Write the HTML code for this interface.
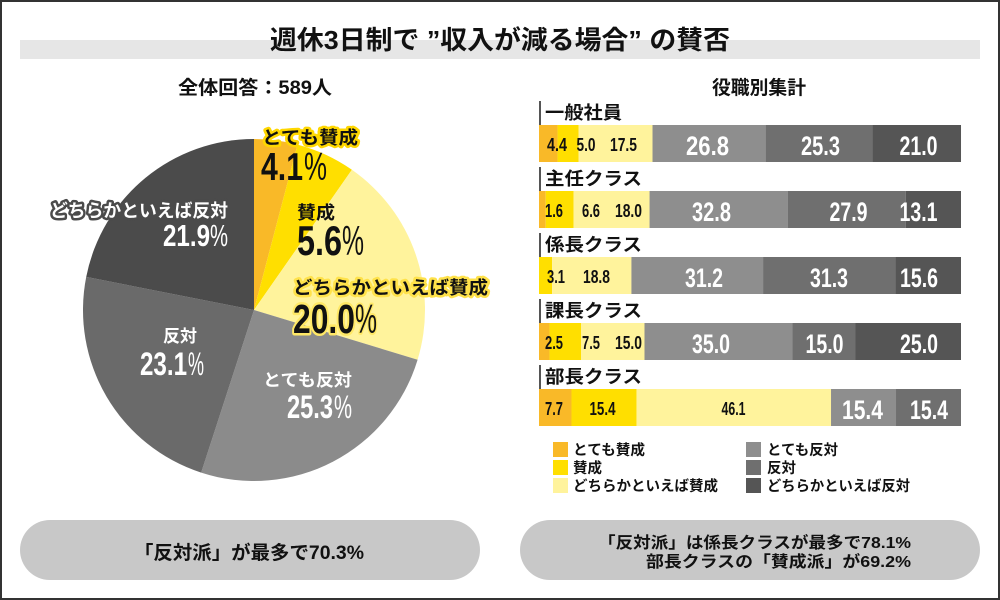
<!DOCTYPE html>
<html><head><meta charset="utf-8"><style>
html,body{margin:0;padding:0;background:#fff;}
svg{display:block;}
text{font-family:"Liberation Sans","Noto Sans CJK JP",sans-serif;}
</style></head><body>
<svg width="1000" height="600" viewBox="0 0 1000 600" xmlns="http://www.w3.org/2000/svg">
<rect x="0" y="0" width="1000" height="600" fill="#fff"/>
<rect x="1" y="1" width="998" height="598" fill="none" stroke="#333" stroke-width="2"/>
<!-- title band -->
<rect x="20" y="40" width="960" height="19" fill="#e6e6e6"/>
<text x="270" y="49" font-size="26" font-weight="700" fill="#111" textLength="460" lengthAdjust="spacingAndGlyphs">週休3日制で ”収入が減る場合” の賛否</text>
<text x="178" y="94" font-size="19" font-weight="700" fill="#111" textLength="154" lengthAdjust="spacingAndGlyphs">全体回答：589人</text>
<text x="712" y="94" font-size="19" font-weight="700" fill="#111" textLength="94" lengthAdjust="spacingAndGlyphs">役職別集計</text>

<!-- pie -->
<path d="M254,310 L254,139 A171,171 0 0 1 297.57,144.64 Z" fill="#f9b928"/>
<path d="M254,310 L297.57,144.64 A171,171 0 0 1 351.90,169.80 Z" fill="#ffdf00"/>
<path d="M254,310 L351.90,169.80 A171,171 0 0 1 417.60,359.76 Z" fill="#fff39c"/>
<path d="M254,310 L417.60,359.76 A171,171 0 0 1 201.16,472.64 Z" fill="#8b8b8b"/>
<path d="M254,310 L201.16,472.64 A171,171 0 0 1 86.23,276.90 Z" fill="#6a6a6a"/>
<path d="M254,310 L86.23,276.90 A171,171 0 0 1 254,139 Z" fill="#4b4b4b"/>

<!-- pie labels -->
<g font-weight="700" stroke-linejoin="round" paint-order="stroke">
<text x="262" y="144" font-size="18" fill="#111" stroke="#ffd700" stroke-width="5" textLength="96" lengthAdjust="spacingAndGlyphs">とても賛成</text>
<text x="261" y="180" font-size="39" fill="#111" textLength="42" lengthAdjust="spacingAndGlyphs">4.1</text>
<text x="304" y="180" font-size="39" font-weight="400" fill="#111" textLength="23" lengthAdjust="spacingAndGlyphs">%</text>

<text x="297" y="219" font-size="18" fill="#111" textLength="38" lengthAdjust="spacingAndGlyphs">賛成</text>
<text x="297" y="255" font-size="42" fill="#111" textLength="45" lengthAdjust="spacingAndGlyphs">5.6</text>
<text x="342" y="255" font-size="42" font-weight="400" fill="#111" textLength="22" lengthAdjust="spacingAndGlyphs">%</text>

<text x="293" y="294" font-size="18" fill="#111" stroke="#ffe24a" stroke-width="5" textLength="195" lengthAdjust="spacingAndGlyphs">どちらかといえば賛成</text>
<text x="293" y="333" font-size="41" fill="#111" stroke="#ffe866" stroke-width="5" textLength="62" lengthAdjust="spacingAndGlyphs">20.0</text>
<text x="355" y="333" font-size="41" font-weight="400" fill="#111" stroke="#ffe866" stroke-width="4" textLength="22" lengthAdjust="spacingAndGlyphs">%</text>

<text x="263" y="386" font-size="17" fill="#fff" textLength="89" lengthAdjust="spacingAndGlyphs">とても反対</text>
<text x="287" y="418" font-size="32" fill="#fff" textLength="46" lengthAdjust="spacingAndGlyphs">25.3</text>
<text x="334" y="418" font-size="32" font-weight="400" fill="#fff" textLength="18" lengthAdjust="spacingAndGlyphs">%</text>

<text x="163" y="342" font-size="17" fill="#fff" textLength="34" lengthAdjust="spacingAndGlyphs">反対</text>
<text x="140" y="375" font-size="32" fill="#fff" textLength="47" lengthAdjust="spacingAndGlyphs">23.1</text>
<text x="188" y="375" font-size="32" font-weight="400" fill="#fff" textLength="16" lengthAdjust="spacingAndGlyphs">%</text>

<text x="50" y="217" font-size="18" fill="#fff" stroke="#4b4b4b" stroke-width="5" textLength="178" lengthAdjust="spacingAndGlyphs">どちらかといえば反対</text>
<text x="163" y="246" font-size="31" fill="#fff" textLength="47" lengthAdjust="spacingAndGlyphs">21.9</text>
<text x="210" y="246" font-size="31" font-weight="400" fill="#fff" textLength="18" lengthAdjust="spacingAndGlyphs">%</text>
</g>

<!-- bar rows -->
<g font-weight="700" fill="#111">
<text x="545" y="119" font-size="18" textLength="77" lengthAdjust="spacingAndGlyphs">一般社員</text>
<text x="545" y="185" font-size="18" textLength="97" lengthAdjust="spacingAndGlyphs">主任クラス</text>
<text x="545" y="251" font-size="18" textLength="97" lengthAdjust="spacingAndGlyphs">係長クラス</text>
<text x="545" y="317" font-size="18" textLength="97" lengthAdjust="spacingAndGlyphs">課長クラス</text>
<text x="545" y="383" font-size="18" textLength="97" lengthAdjust="spacingAndGlyphs">部長クラス</text>
</g>
<g stroke="#555" stroke-width="2">
<line x1="540" y1="101" x2="540" y2="125"/>
<line x1="540" y1="167" x2="540" y2="191"/>
<line x1="540" y1="233" x2="540" y2="257"/>
<line x1="540" y1="299" x2="540" y2="323"/>
<line x1="540" y1="365" x2="540" y2="389"/>
</g>

<!-- row 1 -->
<rect x="539" y="125" width="18.6" height="37" fill="#f9b928"/>
<rect x="557.57" y="125" width="21.1" height="37" fill="#ffdf00"/>
<rect x="578.67" y="125" width="73.85" height="37" fill="#fff39c"/>
<rect x="652.52" y="125" width="113.1" height="37" fill="#8e8e8e"/>
<rect x="765.62" y="125" width="106.77" height="37" fill="#6f6f6f"/>
<rect x="872.39" y="125" width="88.62" height="37" fill="#555"/>
<!-- row 2 -->
<rect x="539" y="191" width="6.75" height="37" fill="#f9b928"/>
<rect x="545.75" y="191" width="27.85" height="37" fill="#ffdf00"/>
<rect x="573.6" y="191" width="75.96" height="37" fill="#fff39c"/>
<rect x="649.56" y="191" width="138.42" height="37" fill="#8e8e8e"/>
<rect x="787.98" y="191" width="117.74" height="37" fill="#6f6f6f"/>
<rect x="905.72" y="191" width="55.28" height="37" fill="#555"/>
<!-- row 3 -->
<rect x="539" y="257" width="13.08" height="37" fill="#ffdf00"/>
<rect x="552.08" y="257" width="79.34" height="37" fill="#fff39c"/>
<rect x="631.42" y="257" width="131.66" height="37" fill="#8e8e8e"/>
<rect x="763.08" y="257" width="132.09" height="37" fill="#6f6f6f"/>
<rect x="895.17" y="257" width="65.83" height="37" fill="#555"/>
<!-- row 4 -->
<rect x="539" y="323" width="10.55" height="37" fill="#f9b928"/>
<rect x="549.55" y="323" width="31.65" height="37" fill="#ffdf00"/>
<rect x="581.2" y="323" width="63.3" height="37" fill="#fff39c"/>
<rect x="644.5" y="323" width="147.7" height="37" fill="#8e8e8e"/>
<rect x="792.2" y="323" width="63.3" height="37" fill="#6f6f6f"/>
<rect x="855.5" y="323" width="105.5" height="37" fill="#555"/>
<!-- row 5 -->
<rect x="539" y="389" width="32.49" height="37" fill="#f9b928"/>
<rect x="571.49" y="389" width="64.99" height="37" fill="#ffdf00"/>
<rect x="636.48" y="389" width="194.54" height="37" fill="#fff39c"/>
<rect x="831.02" y="389" width="64.99" height="37" fill="#8e8e8e"/>
<rect x="896.01" y="389" width="64.99" height="37" fill="#6f6f6f"/>

<!-- small labels -->
<g font-size="18.5" font-weight="700" fill="#111" text-anchor="middle">
<text x="557" y="151" textLength="20" lengthAdjust="spacingAndGlyphs">4.4</text>
<text x="586" y="151" textLength="19" lengthAdjust="spacingAndGlyphs">5.0</text>
<text x="623.5" y="151" textLength="27" lengthAdjust="spacingAndGlyphs">17.5</text>
<text x="554" y="217" textLength="18" lengthAdjust="spacingAndGlyphs">1.6</text>
<text x="591" y="217" textLength="18" lengthAdjust="spacingAndGlyphs">6.6</text>
<text x="628.5" y="217" textLength="27" lengthAdjust="spacingAndGlyphs">18.0</text>
<text x="556" y="283" textLength="18" lengthAdjust="spacingAndGlyphs">3.1</text>
<text x="596.5" y="283" textLength="27" lengthAdjust="spacingAndGlyphs">18.8</text>
<text x="554" y="349" textLength="18" lengthAdjust="spacingAndGlyphs">2.5</text>
<text x="591" y="349" textLength="18" lengthAdjust="spacingAndGlyphs">7.5</text>
<text x="628.5" y="349" textLength="27" lengthAdjust="spacingAndGlyphs">15.0</text>
<text x="554" y="415" textLength="18" lengthAdjust="spacingAndGlyphs">7.7</text>
<text x="602.5" y="415" textLength="26" lengthAdjust="spacingAndGlyphs">15.4</text>
<text x="733.5" y="415" textLength="24" lengthAdjust="spacingAndGlyphs">46.1</text>
</g>
<!-- big labels -->
<g font-size="27" font-weight="700" fill="#fff" text-anchor="middle">
<text x="707.5" y="155" textLength="43" lengthAdjust="spacingAndGlyphs">26.8</text>
<text x="820.5" y="155" textLength="39" lengthAdjust="spacingAndGlyphs">25.3</text>
<text x="918.5" y="155" textLength="38" lengthAdjust="spacingAndGlyphs">21.0</text>
<text x="711.5" y="221" textLength="39" lengthAdjust="spacingAndGlyphs">32.8</text>
<text x="848.5" y="221" textLength="38" lengthAdjust="spacingAndGlyphs">27.9</text>
<text x="918.5" y="221" textLength="38" lengthAdjust="spacingAndGlyphs">13.1</text>
<text x="704" y="287" textLength="38" lengthAdjust="spacingAndGlyphs">31.2</text>
<text x="829" y="287" textLength="38" lengthAdjust="spacingAndGlyphs">31.3</text>
<text x="919" y="287" textLength="38" lengthAdjust="spacingAndGlyphs">15.6</text>
<text x="711" y="353" textLength="38" lengthAdjust="spacingAndGlyphs">35.0</text>
<text x="824.5" y="353" textLength="38" lengthAdjust="spacingAndGlyphs">15.0</text>
<text x="919" y="353" textLength="38" lengthAdjust="spacingAndGlyphs">25.0</text>
<text x="862.5" y="419" textLength="41" lengthAdjust="spacingAndGlyphs">15.4</text>
<text x="929" y="419" textLength="38" lengthAdjust="spacingAndGlyphs">15.4</text>
</g>

<!-- legend -->
<rect x="553" y="442" width="15" height="15" fill="#f9b928"/>
<rect x="553" y="460" width="15" height="15" fill="#ffdf00"/>
<rect x="553" y="478" width="15" height="15" fill="#fff39c"/>
<rect x="746" y="442" width="15" height="15" fill="#8e8e8e"/>
<rect x="746" y="460" width="15" height="15" fill="#6f6f6f"/>
<rect x="746" y="478" width="15" height="15" fill="#555"/>
<g font-size="14.5" font-weight="700" fill="#111">
<text x="573" y="455" textLength="72" lengthAdjust="spacingAndGlyphs">とても賛成</text>
<text x="573" y="473" textLength="29" lengthAdjust="spacingAndGlyphs">賛成</text>
<text x="573" y="491" textLength="145" lengthAdjust="spacingAndGlyphs">どちらかといえば賛成</text>
<text x="767" y="455" textLength="71" lengthAdjust="spacingAndGlyphs">とても反対</text>
<text x="767" y="473" textLength="29" lengthAdjust="spacingAndGlyphs">反対</text>
<text x="767" y="491" textLength="143" lengthAdjust="spacingAndGlyphs">どちらかといえば反対</text>
</g>

<!-- bottom pills -->
<rect x="20" y="520" width="460" height="60" rx="30" ry="30" fill="#c8c8c8"/>
<rect x="520" y="520" width="460" height="60" rx="30" ry="30" fill="#c8c8c8"/>
<g font-weight="700" fill="#111">
<text x="134" y="559" font-size="19" textLength="230" lengthAdjust="spacingAndGlyphs">「反対派」が最多で70.3%</text>
<text x="911" y="548" font-size="16" text-anchor="end" textLength="313" lengthAdjust="spacingAndGlyphs">「反対派」は係長クラスが最多で78.1%</text>
<text x="911" y="567" font-size="16" text-anchor="end" textLength="265" lengthAdjust="spacingAndGlyphs">部長クラスの「賛成派」が69.2%</text>
</g>
</svg>
</body></html>
